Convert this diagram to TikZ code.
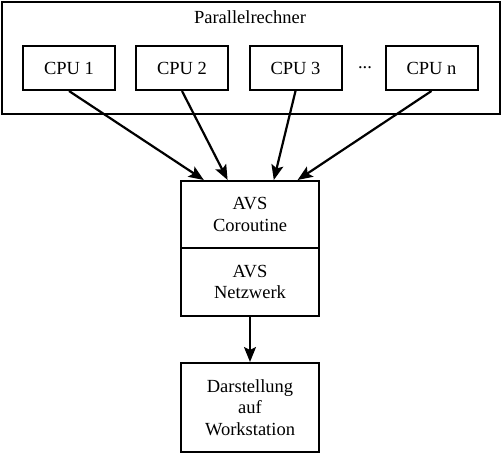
\documentclass[tikz,border=0pt]{standalone}
\usepackage{fontspec}
\setmainfont{Liberation Serif}
\usetikzlibrary{arrows.meta,calc}

\begin{document}
\begin{tikzpicture}[x=1pt, y=1pt, every node/.style={font=\fontsize{18.5}{21.5}\selectfont},
    % Styles
    cpu/.style={draw, line width=2pt, minimum width=92pt, minimum height=44pt, inner sep=0pt},
    avs/.style={draw, line width=2pt, minimum width=138pt, align=center, inner sep=0pt},
    flow-arrow/.style={-{Stealth[length=15pt, width=12pt, inset=3pt]}, line width=2.2pt},
]
\useasboundingbox (0,0) rectangle (501,-455);

% Parallel computer
\node[draw, line width=2pt, minimum width=498pt, minimum height=112pt, anchor=north west] (parallel) at (1,-1) {};
\node (title) at (250,-17) {Parallelrechner};

% CPUs
\node[cpu] (cpuone) at (69,-68) {CPU 1};
\node[cpu] (cputwo) at (182,-68) {CPU 2};
\node[cpu] (cputhree) at (295.5,-68) {CPU 3};
\node (dots) at (365,-68) {...};
\node[cpu] (cpun) at (431.5,-68) {CPU n};

% AVS blocks
\node[avs, minimum height=67pt] (coroutine) at (250,-214.5) {AVS\\Coroutine};
\node[avs, minimum height=68pt] (netzwerk) at (250,-282) {AVS\\Netzwerk};
\node[avs, minimum height=89pt] (display) at (250,-407.5) {Darstellung\\auf\\Workstation};

% Connectors
\draw[flow-arrow] (cpuone.south) -- ($(coroutine.north west)!0.17!(coroutine.north east)$);
\draw[flow-arrow] (cputwo.south) -- ($(coroutine.north west)!0.34!(coroutine.north east)$);
\draw[flow-arrow] (cputhree.south) -- ($(coroutine.north west)!0.67!(coroutine.north east)$);
\draw[flow-arrow] (cpun.south) -- ($(coroutine.north west)!0.84!(coroutine.north east)$);
\draw[flow-arrow] (netzwerk.south) -- (display.north);

\end{tikzpicture}
\end{document}
